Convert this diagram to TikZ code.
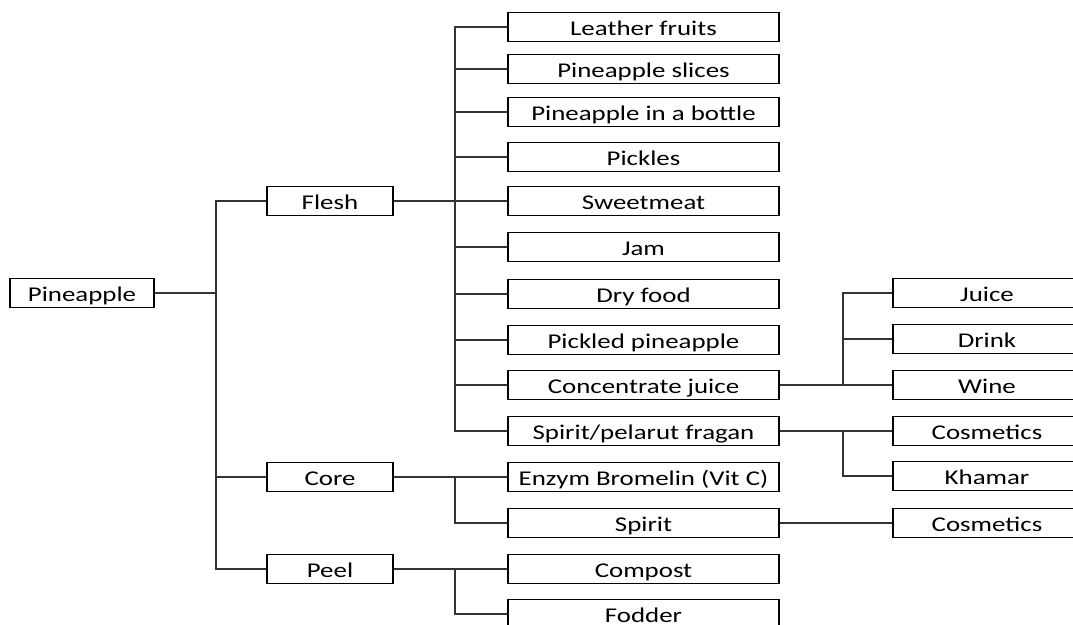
\documentclass[tikz,border=0pt]{standalone}
\usepackage{fontspec}
\setmainfont{Carlito}[FakeStretch=1.28]
\usetikzlibrary{positioning}

\begin{document}
\begin{tikzpicture}[x=1pt, y=-1pt,
        box/.style={draw, rectangle, line width=1.4pt, inner sep=0pt, minimum height=29pt, text height=16pt, text depth=0pt, font=\fontsize{21}{25}\selectfont},
        rootbox/.style={box, minimum width=144pt},
        partbox/.style={box, minimum width=126pt},
        prodbox/.style={box, minimum width=271pt},
        usebox/.style={box, minimum width=188pt},
        link/.style={line width=1.4pt, draw=black!80}]
        \useasboundingbox (0,0) rectangle (1073,624);
        \clip (0,0) rectangle (1073,624);

        % root and parts
        \node[rootbox] (pine) at (82,293) {Pineapple};
        \node[partbox] (flesh) at (330,201) {Flesh};
        \node[partbox] (core) at (330,477) {Core};
        \node[partbox] (peel) at (330,569) {Peel};

        % products
        \node[prodbox] (leather) at (643.5,27) {Leather fruits};
        \node[prodbox] (slices) at (643.5,69) {Pineapple slices};
        \node[prodbox] (bottle) at (643.5,112) {Pineapple in a bottle};
        \node[prodbox] (pickles) at (643.5,157) {Pickles};
        \node[prodbox] (sweet) at (643.5,201) {Sweetmeat};
        \node[prodbox] (jam) at (643.5,247) {Jam};
        \node[prodbox] (dry) at (643.5,294) {Dry food};
        \node[prodbox] (pickled) at (643.5,340) {Pickled pineapple};
        \node[prodbox] (conc) at (643.5,385) {Concentrate juice};
        \node[prodbox] (fragan) at (643.5,431) {Spirit/pelarut fragan};
        \node[prodbox] (enzym) at (643.5,477) {Enzym Bromelin (Vit C)};
        \node[prodbox] (spirit) at (643.5,523) {Spirit};
        \node[prodbox] (compost) at (643.5,569) {Compost};
        \node[prodbox] (fodder) at (643.5,614) {Fodder};

        % uses
        \node[usebox] (juice) at (987,293) {Juice};
        \node[usebox] (drink) at (987,339) {Drink};
        \node[usebox] (wine) at (987,385) {Wine};
        \node[usebox] (cosa) at (987,431) {Cosmetics};
        \node[usebox] (khamar) at (987,476) {Khamar};
        \node[usebox] (cosb) at (987,523) {Cosmetics};

        % branch points
        \coordinate (jpine) at (216,293);
        \coordinate (jflesh) at (455,201);
        \coordinate (jcore) at (455,477);
        \coordinate (jpeel) at (455,569);
        \coordinate (jconc) at (843,385);
        \coordinate (jfragan) at (843,431);

        \draw[link] (pine.east) -- (jpine);
        \draw[link] (jpine) |- (flesh.west);
        \draw[link] (jpine) |- (core.west);
        \draw[link] (jpine) |- (peel.west);

        \draw[link] (flesh.east) -- (sweet.west);
        \draw[link] (jflesh) |- (leather.west);
        \draw[link] (jflesh) |- (slices.west);
        \draw[link] (jflesh) |- (bottle.west);
        \draw[link] (jflesh) |- (pickles.west);
        \draw[link] (jflesh) |- (jam.west);
        \draw[link] (jflesh) |- (dry.west);
        \draw[link] (jflesh) |- (pickled.west);
        \draw[link] (jflesh) |- (conc.west);
        \draw[link] (jflesh) |- (fragan.west);

        \draw[link] (core.east) -- (enzym.west);
        \draw[link] (jcore) |- (spirit.west);
        \draw[link] (peel.east) -- (compost.west);
        \draw[link] (jpeel) |- (fodder.west);

        \draw[link] (conc.east) -- (wine.west);
        \draw[link] (jconc) |- (juice.west);
        \draw[link] (jconc) |- (drink.west);
        \draw[link] (fragan.east) -- (cosa.west);
        \draw[link] (jfragan) |- (khamar.west);
        \draw[link] (spirit.east) -- (cosb.west);
    \end{tikzpicture}
\end{document}
